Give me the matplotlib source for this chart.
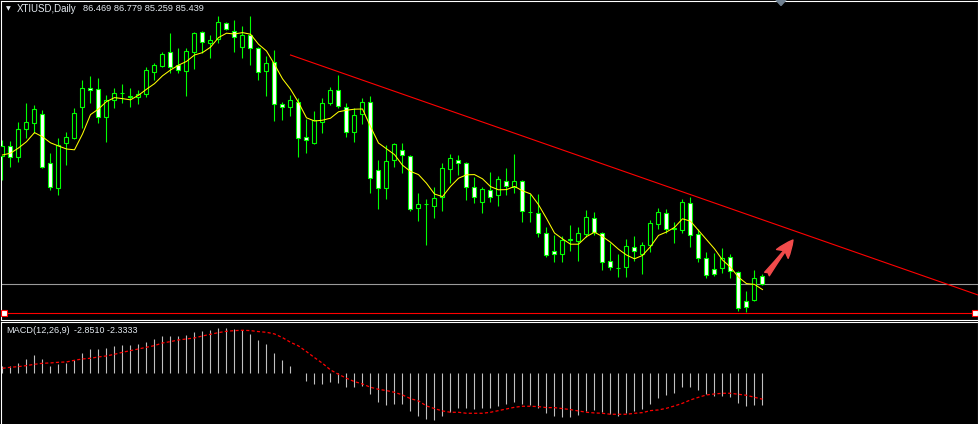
import numpy as np
import pandas as pd
import matplotlib
matplotlib.use("Agg")
import matplotlib.pyplot as plt
from matplotlib.patches import Polygon

# XTIUSD daily candles, oldest first
opens = [102.07, 103.37, 101.94, 105.58, 106.36, 107.53, 101.16, 97.91, 103.76, 104.41,
         108.44, 110.91, 110.78, 107.14, 109.35, 110.26, 109.74, 109.74, 110.13, 112.99,
         113.77, 115.59, 113.90, 113.12, 115.59, 118.19, 116.76, 117.28, 119.36, 118.32,
         116.24, 117.80, 116.11, 113.12, 114.29, 108.83, 108.44, 109.09, 104.54, 103.76,
         106.49, 108.96, 110.65, 108.44, 105.19, 107.53, 109.09, 100.25, 97.91, 101.55,
         102.85, 102.07, 95.31, 95.83, 95.57, 96.74, 100.38, 101.55, 101.16, 98.04,
         96.09, 97.65, 97.00, 98.82, 98.04, 98.82, 94.79, 94.66, 92.06, 89.72,
         89.33, 91.15, 91.02, 91.93, 94.01, 92.06, 88.42, 87.51, 87.64, 90.24,
         89.33, 90.50, 93.23, 94.66, 92.58, 92.45, 95.96, 91.93, 88.81, 87.38,
         87.51, 88.94, 86.99, 83.22, 83.35, 86.469]
highs = [104.15, 104.02, 106.49, 108.96, 108.70, 108.05, 102.46, 104.41, 105.19, 108.31,
         111.95, 112.47, 112.21, 110.00, 110.91, 111.43, 110.91, 110.65, 113.64, 114.16,
         115.59, 118.06, 116.11, 116.11, 118.19, 118.32, 117.80, 120.27, 119.49, 119.75,
         118.97, 120.27, 116.24, 115.07, 115.85, 109.09, 110.00, 109.61, 106.88, 107.92,
         109.61, 111.04, 112.60, 108.96, 108.31, 109.61, 109.87, 101.55, 103.50, 103.76,
         103.76, 102.20, 97.26, 96.48, 98.04, 101.16, 102.33, 102.20, 101.29, 99.34,
         98.04, 99.99, 99.47, 100.51, 102.33, 98.95, 97.13, 97.13, 92.84, 91.80,
         91.67, 93.10, 92.84, 95.05, 94.79, 92.19, 90.76, 89.33, 91.28, 91.67,
         90.89, 93.75, 95.31, 95.18, 93.49, 96.48, 96.74, 92.58, 89.59, 89.46,
         90.11, 89.33, 87.12, 84.52, 87.25, 86.779]
lows = [98.95, 100.64, 101.29, 104.41, 105.06, 100.51, 97.65, 97.00, 100.90, 104.28,
        105.71, 108.96, 106.36, 103.89, 108.31, 108.96, 108.44, 108.83, 109.74, 111.95,
        113.64, 112.86, 112.86, 109.87, 113.38, 115.46, 114.81, 116.76, 118.45, 115.59,
        114.81, 113.90, 111.95, 109.87, 106.62, 106.75, 107.27, 101.94, 102.46, 103.63,
        105.06, 108.70, 108.31, 104.54, 103.89, 106.23, 97.26, 95.18, 96.48, 100.64,
        99.86, 94.92, 93.62, 90.50, 94.01, 94.92, 98.56, 99.60, 96.35, 95.96,
        94.66, 96.09, 95.57, 97.00, 97.26, 93.49, 93.49, 91.54, 88.94, 88.29,
        88.29, 89.72, 88.42, 91.54, 91.80, 87.25, 87.25, 86.34, 86.34, 88.42,
        86.73, 89.59, 92.58, 92.06, 90.76, 92.06, 90.24, 88.29, 86.21, 86.47,
        86.86, 86.21, 81.92, 81.79, 83.22, 85.259]
closes = [103.37, 101.94, 105.58, 106.49, 108.18, 100.64, 98.04, 103.50, 104.54, 107.66,
          110.91, 110.65, 107.14, 109.35, 110.26, 110.24, 109.87, 110.13, 113.25, 113.90,
          115.33, 113.64, 113.25, 115.72, 118.06, 116.89, 117.15, 119.49, 118.58, 117.54,
          117.80, 116.11, 112.99, 114.16, 108.83, 108.44, 109.35, 104.41, 104.15, 106.75,
          108.96, 110.65, 108.57, 105.19, 107.40, 109.09, 99.21, 97.91, 101.42, 103.63,
          102.20, 95.18, 95.83, 95.81, 96.61, 100.51, 101.81, 101.16, 98.04, 96.74,
          97.78, 96.74, 99.08, 98.17, 98.82, 94.92, 94.77, 92.06, 89.20, 89.33,
          91.15, 91.28, 92.06, 94.14, 92.19, 88.29, 87.64, 87.49, 90.37, 89.72,
          90.50, 93.36, 94.79, 92.58, 92.71, 96.09, 91.80, 88.81, 86.60, 86.73,
          88.81, 87.12, 82.31, 82.44, 86.21, 85.439]
# closes of the 4 days before the first visible bar (feed the MA)
prior_closes = [100.77, 102.20, 102.40, 102.27]

# MACD(12,26,9): main (histogram) and signal
macd_main = [0.66, 0.66, 0.96, 1.26, 1.65, 1.29, 0.69, 0.81, 0.90, 1.20,
             1.86, 2.19, 2.19, 2.31, 2.49, 2.58, 2.58, 2.67, 2.82, 3.12,
             3.36, 3.36, 3.39, 3.48, 3.69, 3.81, 3.90, 4.08, 4.08, 3.99,
             3.90, 3.54, 3.03, 2.67, 1.86, 1.20, 0.66, 0.03, -0.66, -0.96,
             -0.96, -0.75, -0.84, -1.20, -1.20, -1.14, -1.86, -2.55, -2.85, -2.75,
             -2.76, -3.36, -3.84, -4.11, -4.20, -3.84, -3.45, -3.15, -3.15, -3.21,
             -3.15, -3.09, -2.94, -2.79, -2.58, -2.79, -2.85, -3.09, -3.54, -3.84,
             -3.90, -3.90, -3.75, -3.39, -3.30, -3.48, -3.69, -3.84, -3.54, -3.39,
             -3.24, -2.76, -2.19, -1.95, -1.74, -1.23, -1.23, -1.50, -1.86, -2.04,
             -2.04, -2.16, -2.64, -2.91, -2.85, -2.851]
macd_signal = [0.45, 0.54, 0.60, 0.69, 0.81, 0.90, 0.93, 0.99, 1.02, 1.17,
               1.29, 1.35, 1.47, 1.56, 1.71, 1.89, 2.04, 2.19, 2.34, 2.49,
               2.73, 2.85, 3.00, 3.09, 3.18, 3.36, 3.51, 3.66, 3.78, 3.84,
               3.87, 3.84, 3.75, 3.69, 3.54, 3.21, 2.79, 2.46, 1.95, 1.41,
               0.90, 0.30, -0.09, -0.45, -0.75, -0.96, -1.26, -1.44, -1.56, -1.71,
               -1.95, -2.28, -2.49, -2.94, -3.18, -3.39, -3.51, -3.51, -3.60, -3.60,
               -3.60, -3.51, -3.36, -3.21, -3.06, -2.97, -2.97, -3.00, -3.09, -3.09,
               -3.18, -3.27, -3.39, -3.51, -3.57, -3.60, -3.69, -3.69, -3.69, -3.60,
               -3.54, -3.36, -3.30, -3.15, -2.94, -2.70, -2.40, -2.16, -1.95, -1.86,
               -1.80, -1.80, -1.89, -1.98, -2.16, -2.3333]

# drawn objects
trend_x = [36, 86]
trend_y = [115.20, 97.05]
red_level = 81.62
bid = 85.439
arrow_from = (95.56, 86.73)
arrow_to = (98.81, 91.15)

LIME = '#00ff00'
W, H = 979, 424
XLIM = (-0.125, 122.0)

fig = plt.figure(figsize=(W / 100, H / 100), dpi=100, facecolor='black')
ax = fig.add_axes([1.5 / W, (H - 319.5) / H, 977 / W, 319 / H])
mx = fig.add_axes([1.5 / W, -0.5 / H, 977 / W, 103 / H])

for a in (ax, mx):
    a.set_facecolor('black')
    a.set_xlim(*XLIM)
    a.set_xticks([])
    a.set_yticks([])
    for s in a.spines.values():
        s.set_color('white')
        s.set_linewidth(0.8)

ax.set_ylim(80.815, 122.285)
mx.set_ylim(-4.61, 4.66)

idx = np.arange(len(closes))
o, h, l, c = (np.array(v) for v in (opens, highs, lows, closes))

# candles
ax.vlines(idx, l, h, color=LIME, lw=0.8, zorder=2)
fills = np.where(c < o, 'white', 'black')
ax.bar(idx, c - o, bottom=o, width=0.5, color=fills, edgecolor=LIME,
       linewidth=0.8, zorder=3)

# MA(5) on close
ma = pd.Series(prior_closes + closes).rolling(5).mean().to_numpy()[len(prior_closes):]
ax.plot(idx, ma, color='yellow', lw=0.75, zorder=4)

# trend line, extended to the right edge
slope = (trend_y[1] - trend_y[0]) / (trend_x[1] - trend_x[0])
x_end = XLIM[1]
ax.plot([trend_x[0], x_end], [trend_y[0], trend_y[0] + slope * (x_end - trend_x[0])],
        color='red', lw=0.8, zorder=5)

ax.axhline(bid, color='#9a9a9a', lw=0.8, zorder=1)
ax.axhline(red_level, color='red', lw=0.8, zorder=1)
ax.plot([0.19, 121.56], [red_level, red_level], 's', ms=4, mfc='white', mec='red',
        mew=0.8, zorder=6, clip_on=False)

ax.annotate('', xy=arrow_to, xytext=arrow_from,
            arrowprops=dict(arrowstyle='fancy,head_length=0.9,head_width=0.75,tail_width=0.3',
                            color='#f24b4b', shrinkA=0, shrinkB=0, mutation_scale=14),
            zorder=6)

# MACD panel
mx.vlines(idx, 0, macd_main, color='#c0c0c0', lw=0.8)
mx.plot(idx, macd_signal, color='red', lw=0.9, ls=(0, (2.5, 1.8)))

# labels
TXT = '#e4eaf0'
FONT = 'Liberation Sans'
fig.text(8.8 / W, 1 - 9 / H, '\u25bc', color=TXT, fontsize=4.5, ha='center', va='center')
fig.text(17 / W, 1 - 8.5 / H, 'XTIUSD,Daily', color=TXT, fontsize=7.0, family=FONT,
         ha='left', va='center')
fig.text(83 / W, 1 - 8.5 / H, '86.469 86.779 85.259 85.439', color=TXT, fontsize=6.7,
         family=FONT, ha='left', va='center')
fig.text(6.5 / W, 1 - 330.5 / H, 'MACD(12,26,9)', color=TXT, fontsize=6.6, family=FONT,
         ha='left', va='center')
fig.text(74 / W, 1 - 330.5 / H, '-2.8510 -2.3333', color=TXT, fontsize=6.4, family=FONT,
         ha='left', va='center')

# chart-shift marker at the top
fig.patches.append(Polygon([[776 / W, 1], [786 / W, 1], [781 / W, 1 - 5.5 / H]], closed=True,
                           transform=fig.transFigure, color='#6f8090', zorder=10))

fig.savefig('out.png', dpi=100, facecolor='black')
